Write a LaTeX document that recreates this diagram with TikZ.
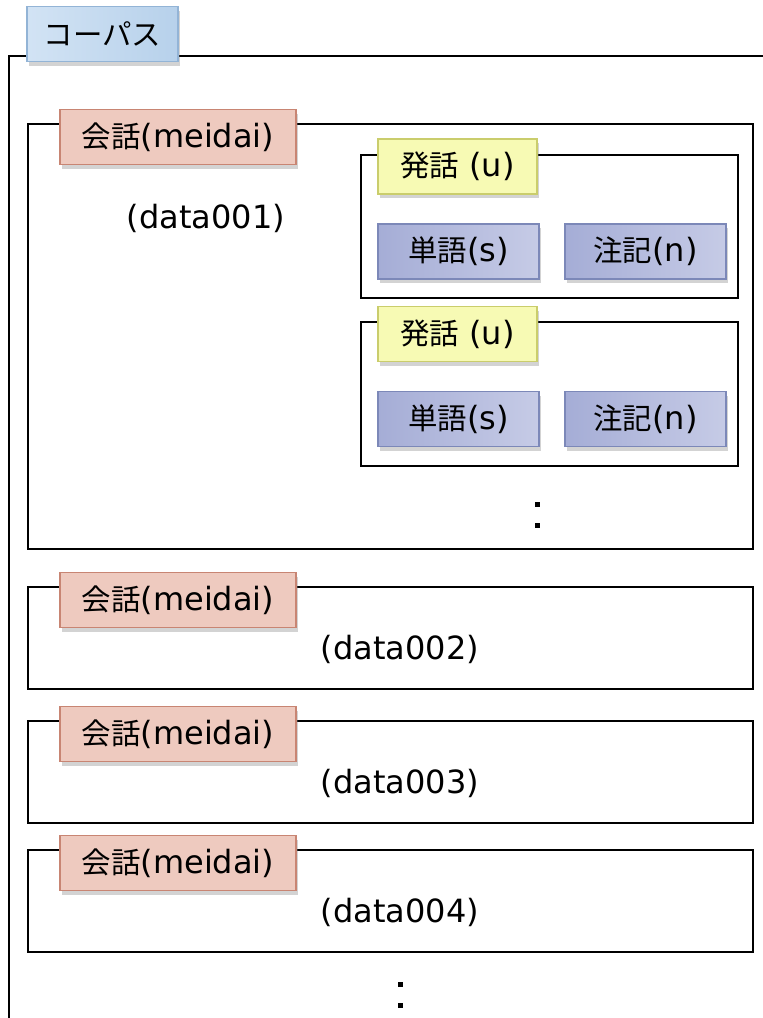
\documentclass[tikz,border=0pt]{standalone}
\usepackage{fontspec}
\setmainfont{DejaVu Sans}
\newfontfamily\jp{Noto Sans CJK JP}[Scale=0.92]
\usetikzlibrary{shadows}
\definecolor{corpusL}{HTML}{D2E3F4}
\definecolor{corpusR}{HTML}{B7D1EB}
\definecolor{corpusD}{HTML}{93B4D6}
\definecolor{kaiwaL}{HTML}{EECABF}
\definecolor{kaiwaM}{HTML}{DFA08E}
\definecolor{kaiwaD}{HTML}{C88573}
\definecolor{uttL}{HTML}{F7FAB4}
\definecolor{uttM}{HTML}{EEF488}
\definecolor{uttD}{HTML}{CACD6C}
\definecolor{wordL}{HTML}{C6CBE6}
\definecolor{wordM}{HTML}{A5ADD6}
\definecolor{wordD}{HTML}{7C88B8}

\begin{document}
\begin{tikzpicture}[x=1pt,y=-1pt,
  frame/.style={draw=black, line width=1.8pt},
  inner/.style={draw=black, line width=1.5pt},
  tag/.style={line width=1.2pt, minimum height=55pt, inner sep=0pt,
    font=\fontsize{32}{38}\selectfont,
    drop shadow={shadow xshift=2pt, shadow yshift=-4pt, opacity=0.35}},
  corpustag/.style={tag, draw=corpusD, left color=corpusL, right color=corpusR, minimum width=151pt},
  kaiwatag/.style={tag, draw=kaiwaD, left color=kaiwaL, middle color=kaiwaM, right color=kaiwaL, minimum width=236pt},
  utttag/.style={tag, draw=uttD, left color=uttL, middle color=uttM, right color=uttL, minimum width=159pt},
  wordbox/.style={tag, draw=wordD, left color=wordM, middle color=wordM, right color=wordL, minimum width=161pt},
  datatext/.style={font=\fontsize{32}{38}\selectfont, inner sep=0pt},
  dot/.style={fill=black}]
  \useasboundingbox (0,0) rectangle (763,1018);

  % corpus frame (open to the right and bottom)
  \draw[frame] (763,56) -- (9,56) -- (9,1018);
  \node[corpustag] (corpus) at (102.5,34) {\jp コーパス};

  % first conversation, with its utterances
  \draw[inner] (28,124) rectangle (753,549);
  \node[kaiwatag] (kaiwa1) at (178,137) {{\jp 会話}(meidai)};
  \node[datatext] (data1) at (206,218) {(data001)};

  \draw[inner] (361,155) rectangle (738,298);
  \node[utttag]  (utt1)  at (457.5,166.5) {{\jp 発話} (u)};
  \node[wordbox] (word1) at (458.5,251.5) {{\jp 単語}(s)};
  \node[wordbox] (note1) at (645.5,251.5) {{\jp 注記}(n)};

  \draw[inner] (361,322) rectangle (738,466);
  \node[utttag]  (utt2)  at (457.5,334) {{\jp 発話} (u)};
  \node[wordbox] (word2) at (458.5,419) {{\jp 単語}(s)};
  \node[wordbox] (note2) at (645.5,419) {{\jp 注記}(n)};

  % vertical ellipsis inside the first conversation
  \fill[dot] (534.5,501.5) rectangle ++(5,5);
  \fill[dot] (534.5,522.5) rectangle ++(5,5);

  % further conversations
  \foreach \i/\top in {2/587,3/721,4/850}{
    \draw[inner] (28,\top) rectangle (753,\top+102);
    \node[kaiwatag] (kaiwa\i) at (178,\top+13) {{\jp 会話}(meidai)};
    \node[datatext] (data\i) at (400,\top+62) {(data00\i)};
  }

  % vertical ellipsis at the bottom
  \fill[dot] (397.5,981.5) rectangle ++(5,5);
  \fill[dot] (397.5,1002.5) rectangle ++(5,5);
\end{tikzpicture}
\end{document}
